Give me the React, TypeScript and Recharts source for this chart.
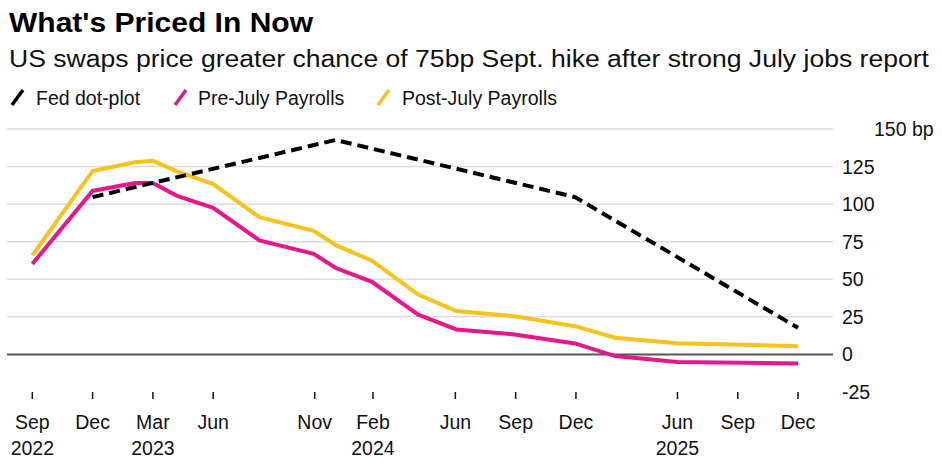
import { LineChart, Line, XAxis, YAxis, CartesianGrid, ReferenceLine } from "recharts";

// x = months after the Sep 2022 meeting
const meetingMonths = [0, 3, 5.1, 6, 7.2, 9, 11.3, 14, 15.1, 16.9, 19.2, 21.1, 24, 27, 29, 32.1, 38.1];
const prePayrolls = [60.2, 108.8, 114, 114, 105.5, 97.6, 75.9, 67, 57.5, 48.3, 26.5, 16.6, 13.3, 7.3, -1.1, -5.1, -6];
const postPayrolls = [65.9, 122.1, 127.9, 128.8, 121.8, 113.3, 91.3, 82.3, 72.7, 62.4, 39.8, 28.9, 25.4, 18.8, 11.1, 7.4, 5.5];
const dotPlot = [null, 104.7, null, null, null, null, null, null, 142.7, null, null, null, null, 104.7, null, null, 17.7];

const xTicks = [0, 3, 6, 9, 14.05, 16.95, 21.05, 24.05, 27.05, 32.1, 35.1, 38.1];
const monthLabels = ["Sep", "Dec", "Mar", "Jun", "Nov", "Feb", "Jun", "Sep", "Dec", "Jun", "Sep", "Dec"];
const yearLabels = ["2022", "", "2023", "", "", "2024", "", "", "", "2025", "", ""];
const yTicks = [-25, 0, 25, 50, 75, 100, 125, 150];

const data = meetingMonths.map((m, i) => ({
  m,
  pre: prePayrolls[i],
  post: postPayrolls[i],
  dot: dotPlot[i],
}));

const FONT = "'Liberation Sans', Arial, Helvetica, sans-serif";
const PINK = "#e5178b";
const YELLOW = "#f6c21c";

function MonthTick({ x, y, payload }: any) {
  const i = xTicks.indexOf(payload.value);
  return (
    <g>
      <text x={x} y={y + 28} textAnchor="middle" fontSize={19.5} fill="#111" fontFamily={FONT}>
        {monthLabels[i]}
      </text>
      {yearLabels[i] && (
        <text x={x} y={y + 54} textAnchor="middle" fontSize={19.5} fill="#111" fontFamily={FONT}>
          {yearLabels[i]}
        </text>
      )}
    </g>
  );
}

function ValueTick({ x, y, payload }: any) {
  const top = payload.value === 150;
  return (
    <text x={top ? x + 32 : x} y={y + 7} textAnchor="start" fontSize={19.5} fill="#111" fontFamily={FONT}>
      {top ? "150 bp" : payload.value}
    </text>
  );
}

export default function App() {
  return (
    <div style={{ position: "absolute", left: 0, top: 0, width: 942, height: 472, background: "#fff" }}>
      <LineChart
        width={942}
        height={472}
        data={data}
        margin={{ top: 129, right: 0, bottom: 0, left: 7 }}
      >
        <CartesianGrid vertical={false} stroke="#dcdcdc" strokeWidth={1.5} horizontalValues={[25, 50, 75, 100, 125, 150]} />
        <XAxis
          dataKey="m"
          type="number"
          domain={[-1.26, 39.84]}
          ticks={xTicks}
          interval={0}
          allowDataOverflow
          axisLine={false}
          tickSize={7}
          tickLine={{ stroke: "#111", strokeWidth: 1.5 }}
          tick={<MonthTick />}
          height={80}
        />
        <YAxis
          orientation="right"
          domain={[-25, 150]}
          ticks={yTicks}
          interval={0}
          axisLine={false}
          tickLine={false}
          tickSize={0}
          tickMargin={9}
          tick={<ValueTick />}
          width={109}
        />
        <ReferenceLine y={0} stroke="#555" strokeWidth={2} />
        <Line dataKey="pre" stroke={PINK} strokeWidth={4} dot={false} type="linear" isAnimationActive={false} />
        <Line dataKey="post" stroke={YELLOW} strokeWidth={4} dot={false} type="linear" isAnimationActive={false} />
        <Line
          dataKey="dot"
          stroke="#000"
          strokeWidth={4}
          strokeDasharray="11 6"
          dot={false}
          connectNulls
          type="linear"
          isAnimationActive={false}
        />
      </LineChart>
      <svg width={942} height={120} style={{ position: "absolute", left: 0, top: 0, pointerEvents: "none" }}>
        <text x={9} y={32} fontSize={27} fontWeight="bold" fill="#000" fontFamily={FONT} textLength={304} lengthAdjust="spacingAndGlyphs">
          What's Priced In Now
        </text>
        <text x={9} y={67} fontSize={23} fill="#111" fontFamily={FONT} textLength={920} lengthAdjust="spacingAndGlyphs">
          US swaps price greater chance of 75bp Sept. hike after strong July jobs report
        </text>
        <line x1={12} y1={105} x2={23} y2={90} stroke="#000" strokeWidth={3.5} />
        <text x={36} y={105} fontSize={19.5} fill="#111" fontFamily={FONT}>Fed dot-plot</text>
        <line x1={175} y1={105} x2={186} y2={90} stroke={PINK} strokeWidth={3.5} />
        <text x={198} y={105} fontSize={19.5} fill="#111" fontFamily={FONT}>Pre-July Payrolls</text>
        <line x1={378} y1={105} x2={389} y2={90} stroke={YELLOW} strokeWidth={3.5} />
        <text x={402} y={105} fontSize={19.5} fill="#111" fontFamily={FONT}>Post-July Payrolls</text>
      </svg>
    </div>
  );
}
